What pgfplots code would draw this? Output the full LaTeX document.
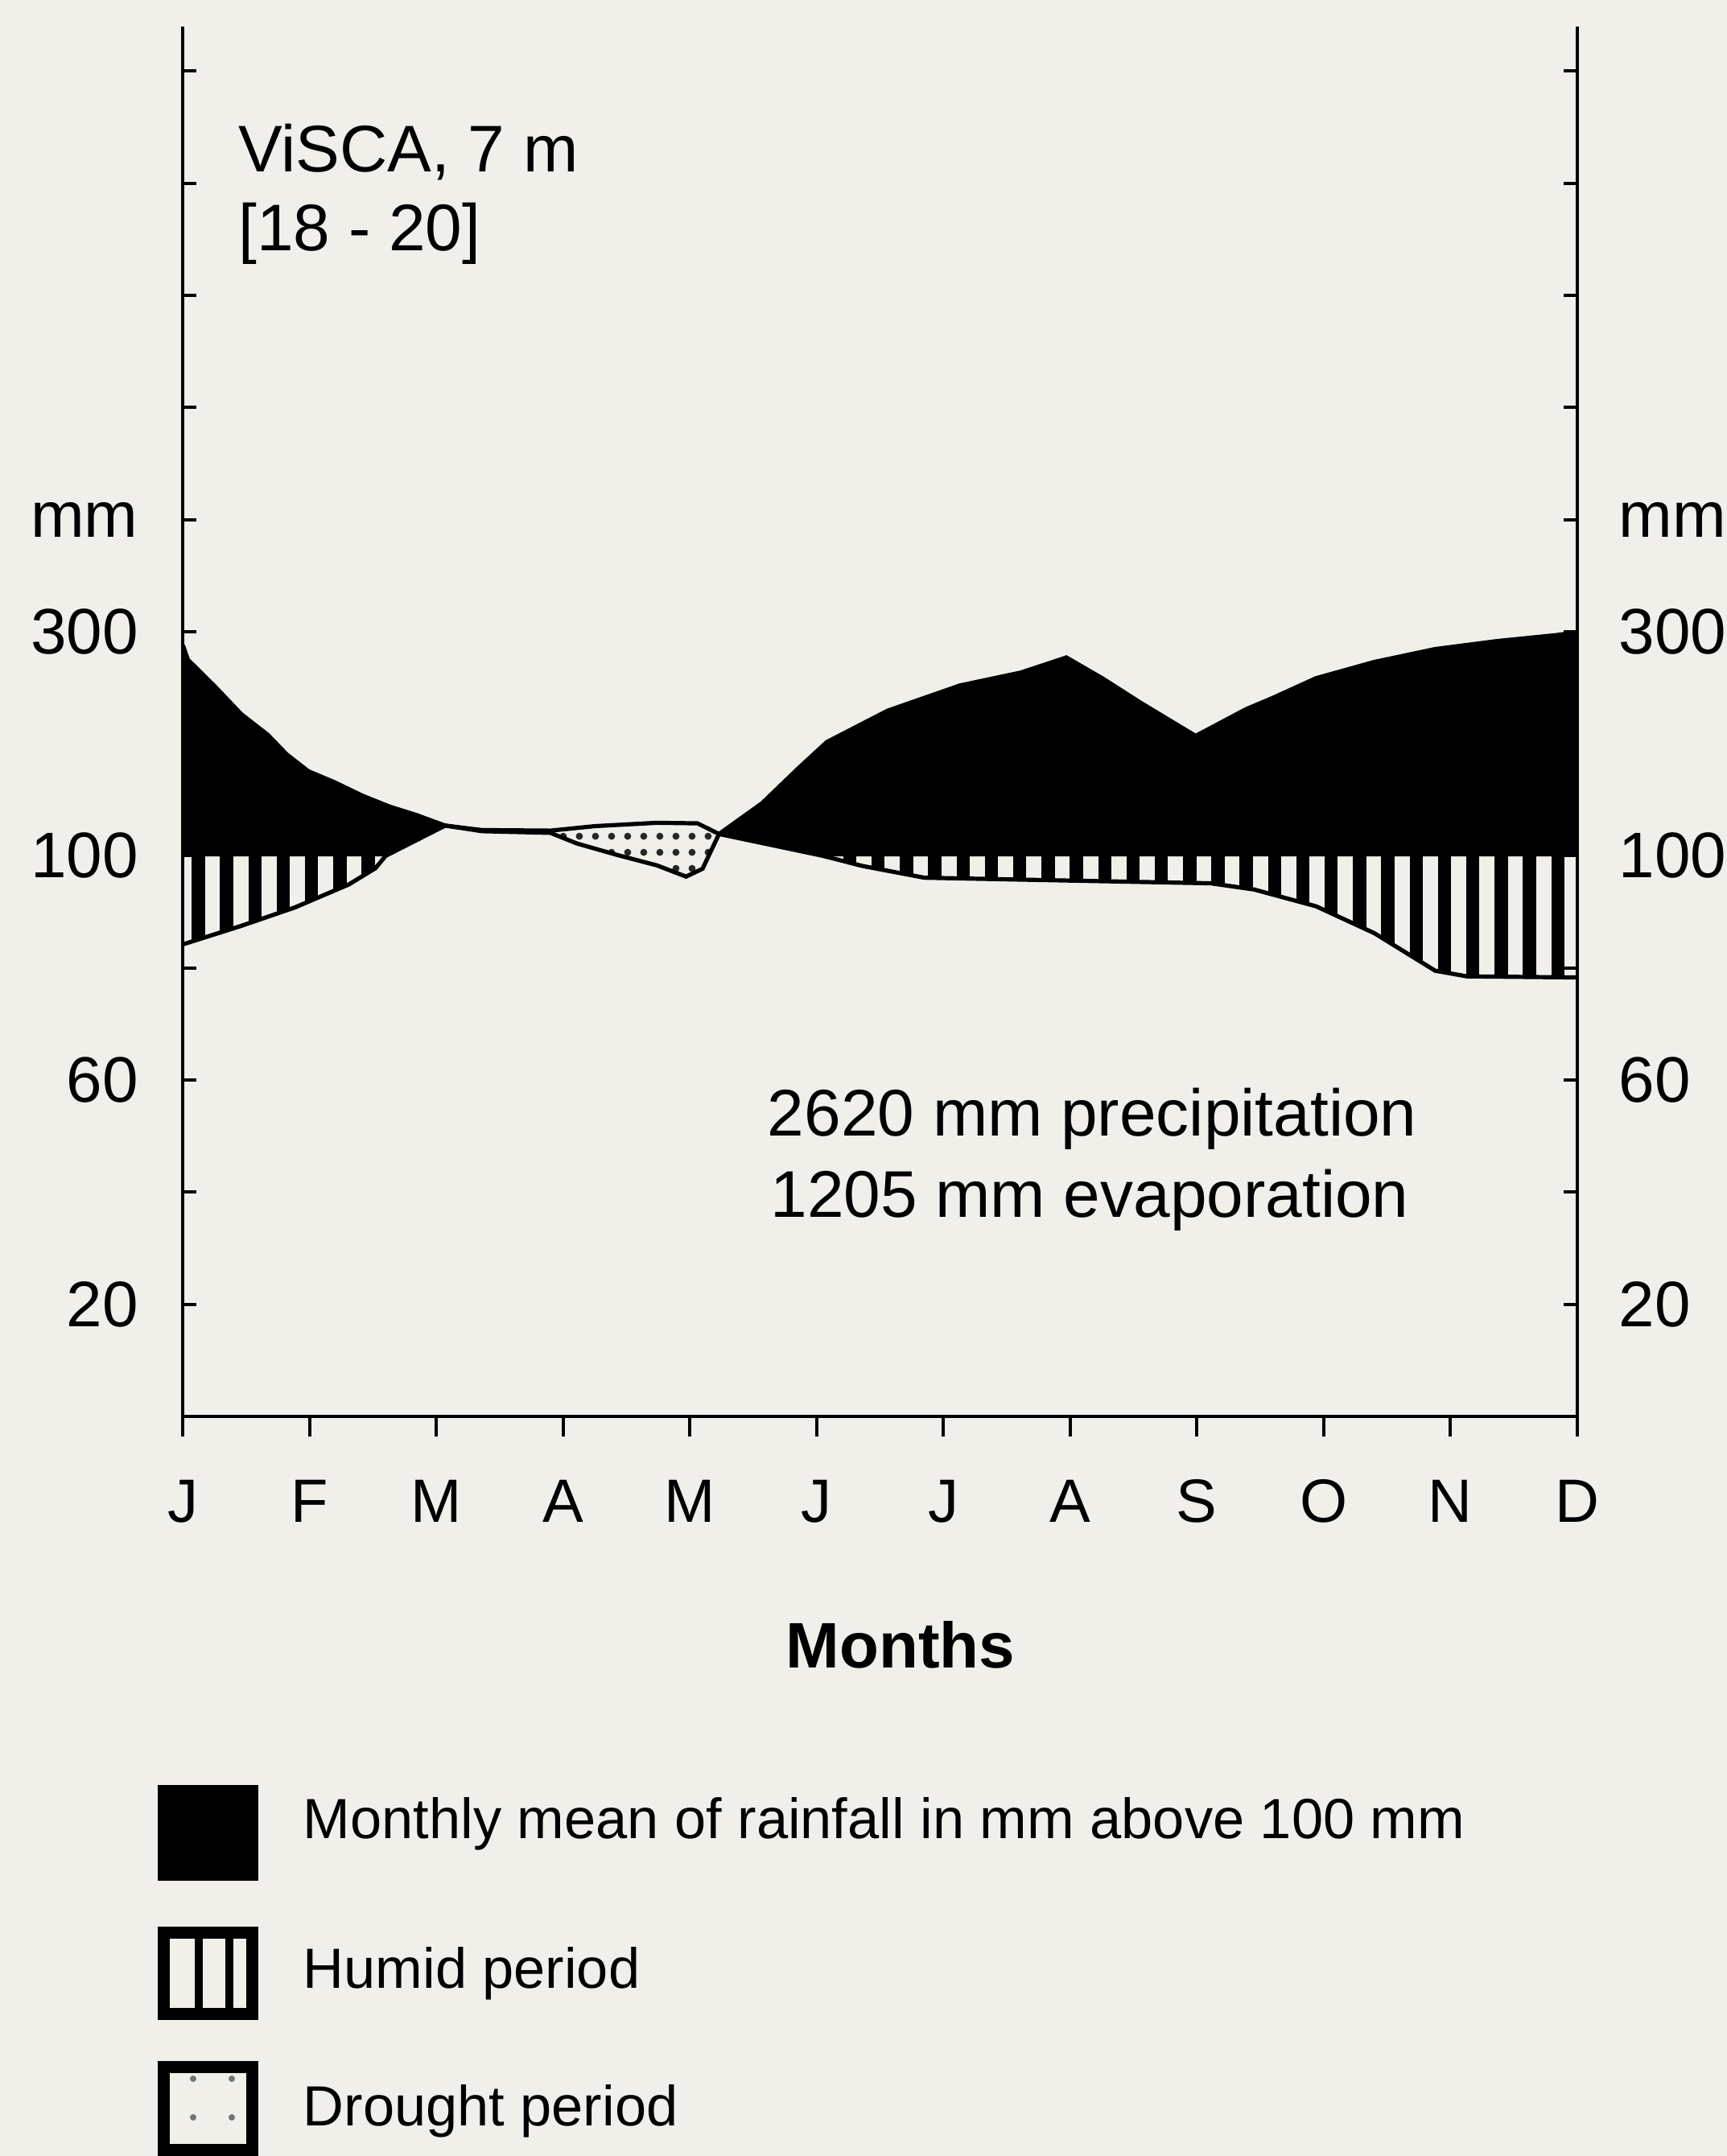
\documentclass[border=0pt]{standalone}
\usepackage{pgfplots}
\usepackage{pgfplotstable}
\pgfplotsset{compat=1.18}
\usepgfplotslibrary{fillbetween}
\usetikzlibrary{patterns.meta}
\usepackage{fontspec}
\setmainfont{Liberation Sans}
\definecolor{paper}{RGB}{241,239,234}

% monthly precipitation (mm), month index 0 = J ... 11 = D
\pgfplotstableread{
m mm
0 288
0.04 275
0.25 251.5
0.46 226.5
0.67 208
0.82 190.5
0.99 175.5
1.20 165.5
1.42 153.5
1.63 144
1.84 136.5
2.07 127
2.36 122
2.90 120.5
3.11 111
3.42 101
3.74 98.3
3.97 96.3
4.10 97.7
4.23 119.5
4.57 147
4.85 177.5
5.08 201.5
5.56 229.5
6.13 252
6.61 263.5
6.97 277
7.26 258
7.55 237
7.99 207
8.39 231
8.59 240.5
8.94 258.5
9.40 273
9.88 284.5
10.36 291.5
10.84 297
11.0 299.5
}\precip

% evaporation (mm)
\pgfplotstableread{
m mm
0 84.2
0.46 87.5
0.885 90.8
1.31 94.9
1.52 97.8
1.60 100
2.07 127
2.36 123
2.90 122.5
3.25 126.5
3.74 129.5
4.06 129
4.23 119.5
5.05 100
5.36 98.2
5.85 96.1
6.97 95.6
8.11 95.1
8.45 94.0
8.94 91.0
9.40 86.2
9.88 79.5
10.13 78.5
11.0 78.3
}\evap

\newcommand{\tfont}{\fontsize{20}{24}\selectfont}
\newcommand{\afont}{\fontsize{20.5}{24}\selectfont}
\newcommand{\lfont}{\fontsize{17.6}{21}\selectfont}

\begin{document}
\begin{tikzpicture}

% main axis: data and month ticks
\begin{axis}[
  set layers,
  at={(0,0)}, anchor=south west, scale only axis,
  width=433.2pt, height=431.8pt,
  xmin=0, xmax=11, ymin=0, ymax=248,
  axis line style={draw=none},
  xtick={0,...,11},
  xticklabels={J,F,M,A,M,J,J,A,S,O,N,D},
  xtick pos=left, tick align=outside, major tick length=6.4pt,
  tick style={black, line width=1pt},
  xticklabel style={anchor=base, yshift=-26.5pt, inner sep=0pt, font=\fontsize{19}{22}\selectfont},
  ytick=\empty,
  clip=false,
]
\begin{pgfonlayer}{axis background}
\fill[paper] (rel axis cs:-0.1312,-0.5322) rectangle (rel axis cs:1.1074,1.019);
\end{pgfonlayer}

\addplot[name path=P, draw=none] table[x=m, y expr={(\thisrow{mm}>100)?(100+(\thisrow{mm}-100)/5):(\thisrow{mm})}] {\precip};
\addplot[name path=E, draw=none] table[x=m, y expr={(\thisrow{mm}>100)?(100+(\thisrow{mm}-100)/5):(\thisrow{mm})}] {\evap};
\addplot[name path=H, draw=none] coordinates {(0,100) (11,100)};

% rainfall above 100 mm
\addplot[black, draw=black, line width=0.3pt] fill between[of=P and H, soft clip={domain=0:1.61}];
\addplot[black, draw=black, line width=0.3pt] fill between[of=P and E, soft clip={domain=1.59:2.07}];
\addplot[black, draw=black, line width=0.3pt] fill between[of=P and E, soft clip={domain=4.23:5.06}];
\addplot[black, draw=black, line width=0.3pt] fill between[of=P and H, soft clip={domain=5.04:11}];
% humid period
\addplot[draw=none, pattern={Lines[angle=90,distance=8.8pt,line width=4.1pt]}, pattern color=black] fill between[of=H and E, soft clip={domain=0:1.60}];
\addplot[draw=none, pattern={Lines[angle=90,distance=8.8pt,line width=4.1pt]}, pattern color=black] fill between[of=H and E, soft clip={domain=5.05:11}];
% drought period
\addplot[draw=none, pattern={Dots[distance=5pt,radius=1.1pt]}, pattern color=black!85] fill between[of=E and P, soft clip={domain=2.07:4.23}];

\addplot[black, line width=1.3pt] table[x=m, y expr={(\thisrow{mm}>100)?(100+(\thisrow{mm}-100)/5):(\thisrow{mm})}] {\precip};
\addplot[black, line width=1.3pt] table[x=m, y expr={(\thisrow{mm}>100)?(100+(\thisrow{mm}-100)/5):(\thisrow{mm})}] {\evap};

\draw[line width=1.1pt] (rel axis cs:0,1) -- (rel axis cs:0,0) -- (rel axis cs:1,0) -- (rel axis cs:1,1);
\end{axis}

% y ticks, left labels
\begin{axis}[
  at={(0,0)}, anchor=south west, scale only axis,
  width=433.2pt, height=431.8pt,
  xmin=0, xmax=11, ymin=0, ymax=248,
  axis line style={draw=none},
  xtick=\empty,
  ytick={20,40,...,240},
  yticklabels={20,,60,,100,,300,mm,,,,},
  ytick pos=both, yticklabel pos=left,
  tick align=inside, major tick length=4.3pt,
  tick style={black, line width=1pt},
  yticklabel style={anchor=east, xshift=-13.7pt, inner sep=0pt, font=\tfont},
]
\end{axis}

% right labels
\begin{axis}[
  at={(0,0)}, anchor=south west, scale only axis,
  width=433.2pt, height=431.8pt,
  xmin=0, xmax=11, ymin=0, ymax=248,
  axis line style={draw=none},
  xtick=\empty,
  ytick={20,40,...,240},
  yticklabels={20,,60,,100,,300,mm,,,,},
  ytick pos=right, yticklabel pos=right,
  major tick length=0pt,
  yticklabel style={anchor=west, xshift=12.8pt, inner sep=0pt, font=\tfont},
]
\end{axis}

% annotations
\node[anchor=base west, inner sep=0pt, font=\afont] at (17.1pt,386.6pt) {ViSCA, 7 m};
\node[anchor=base west, inner sep=0pt, font=\afont] at (17.1pt,362.2pt) {[18 - 20]};
\node[anchor=base west, inner sep=0pt, font=\afont] at (181.5pt,87.1pt) {2620 mm precipitation};
\node[anchor=base west, inner sep=0pt, font=\afont] at (182.4pt,61.9pt) {1205 mm evaporation};
\node[anchor=base, inner sep=0pt, font=\tfont\bfseries] at (223pt,-78.2pt) {Months};

% legend
\fill[black] (-7.69pt,-144.4pt) rectangle (23.49pt,-114.6pt);
\draw[line width=3.75pt] (-5.8pt,-185.6pt) rectangle (21.6pt,-160.4pt);
\draw[line width=2.5pt] (4.9pt,-187.5pt) -- (4.9pt,-158.5pt);
\draw[line width=2.5pt] (14.4pt,-187.5pt) -- (14.4pt,-158.5pt);
\draw[line width=3.75pt, pattern={Dots[distance=12pt,radius=1pt]}, pattern color=black!55] (-5.8pt,-227.9pt) rectangle (21.6pt,-202.2pt);
\node[anchor=base west, inner sep=0pt, font=\lfont] at (37.2pt,-131.1pt) {Monthly mean of rainfall in mm above 100 mm};
\node[anchor=base west, inner sep=0pt, font=\lfont] at (37.2pt,-177.7pt) {Humid period};
\node[anchor=base west, inner sep=0pt, font=\lfont] at (37.2pt,-220.4pt) {Drought period};

\pgfresetboundingbox
\path (-56.8pt,-229.8pt) rectangle (479.7pt,440pt);
\end{tikzpicture}
\end{document}
